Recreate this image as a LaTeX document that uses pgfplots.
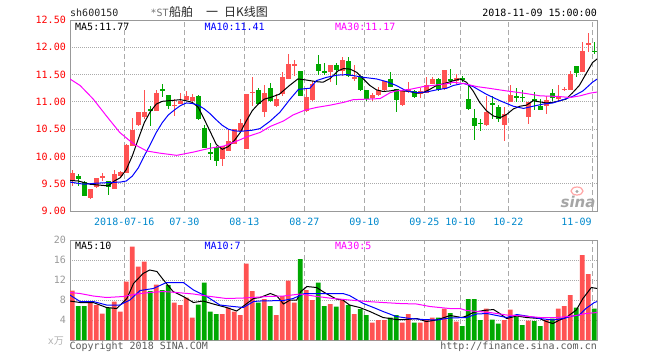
\documentclass[border=0pt]{standalone}
\usepackage{fontspec}
\setmainfont{DejaVu Sans Mono}
\newfontfamily\cjk{Noto Sans CJK SC}
\newfontfamily\sinafont{DejaVu Sans}
\usepackage{pgfplots}
\usepackage{pgfplotstable}
\pgfplotsset{compat=1.18}
\definecolor{cred}{RGB}{255,82,82}
\definecolor{cgreen}{RGB}{0,168,0}
\definecolor{axgray}{RGB}{153,153,153}
\definecolor{gridgray}{RGB}{170,170,170}
\definecolor{datecol}{RGB}{0,136,204}
\definecolor{mablue}{RGB}{0,0,255}
\definecolor{mamag}{RGB}{255,0,255}
\newcommand\mfont{\fontsize{10}{12}\selectfont}

\pgfplotstableread{
i o h l c v
0 9.55 9.76 9.46 9.70 9.9
3 9.24 9.40 9.22 9.40 7.5
4 9.44 9.61 9.42 9.61 7.0
5 9.60 9.70 9.55 9.65 5.3
7 9.40 9.75 9.40 9.67 7.7
8 9.65 9.73 9.63 9.71 5.7
9 9.70 10.22 9.70 10.21 11.7
10 10.19 10.70 10.19 10.49 18.7
11 10.57 10.81 10.56 10.81 14.7
12 10.72 11.21 10.69 10.82 15.7
14 10.84 11.22 10.84 11.16 11.1
17 10.93 11.05 10.75 10.95 7.5
18 10.96 11.17 10.96 11.02 7.0
19 11.04 11.19 11.03 11.10 8.5
20 11.02 11.14 10.99 11.08 4.5
25 9.96 10.19 9.83 10.19 5.2
26 10.10 10.50 10.10 10.29 6.5
27 10.22 10.50 10.22 10.50 5.7
28 10.47 10.68 10.47 10.61 5.0
29 10.13 11.14 10.13 11.14 15.3
30 11.17 11.45 10.93 11.18 9.8
32 10.82 11.31 10.73 11.16 8.2
34 10.93 11.14 10.90 11.06 5.0
35 11.14 11.55 11.11 11.45 8.8
36 11.42 11.88 11.41 11.69 11.9
37 11.66 11.77 11.48 11.69 7.5
39 10.84 11.26 10.82 11.08 10.0
40 11.03 11.39 11.02 11.33 8.0
43 11.55 11.68 11.36 11.68 7.2
45 11.56 11.82 11.48 11.77 8.2
47 11.41 11.68 11.39 11.45 5.2
50 11.07 11.17 11.01 11.12 3.5
51 11.13 11.28 11.11 11.22 4.0
52 11.22 11.39 11.20 11.39 4.0
55 10.94 11.19 10.93 11.19 3.5
56 11.19 11.37 11.17 11.23 5.2
58 11.14 11.26 11.08 11.20 3.5
59 11.17 11.46 11.16 11.31 4.0
60 11.33 11.45 11.32 11.42 4.5
62 11.24 11.58 11.22 11.58 6.3
64 11.39 11.51 11.33 11.43 3.7
69 10.58 11.11 10.56 10.82 6.3
72 10.58 10.90 10.28 10.77 4.0
73 11.00 11.31 10.99 11.12 6.1
76 10.73 11.00 10.59 11.00 3.9
79 10.92 11.10 10.77 11.03 4.0
81 11.07 11.30 11.02 11.09 6.3
82 11.22 11.28 11.19 11.24 6.8
83 11.22 11.57 11.22 11.51 9.0
85 11.55 12.09 11.54 11.93 17.0
86 12.05 12.26 11.91 12.07 13.2
}\upT

\pgfplotstableread{
i o h l c v
1 9.64 9.67 9.46 9.59 6.8
2 9.54 9.55 9.27 9.27 6.8
6 9.55 9.55 9.30 9.44 6.5
13 10.86 10.93 10.55 10.85 9.8
15 11.23 11.33 11.08 11.22 10.0
16 11.13 11.13 10.87 10.93 11.0
21 11.11 11.13 10.67 10.68 7.1
22 10.52 10.57 10.15 10.15 11.5
23 10.07 10.24 9.93 10.06 5.7
24 10.18 10.19 9.83 9.92 5.2
31 11.21 11.25 10.96 10.96 7.5
33 11.25 11.34 10.99 11.02 6.8
38 11.56 11.56 11.10 11.11 16.2
41 11.69 11.85 11.50 11.56 11.5
42 11.56 11.72 11.49 11.53 6.8
44 11.68 11.71 11.31 11.59 6.7
46 11.74 11.82 11.45 11.47 7.0
48 11.48 11.48 11.19 11.22 6.2
49 11.22 11.22 11.01 11.05 5.0
53 11.42 11.54 11.27 11.28 4.5
54 11.23 11.23 10.82 11.03 5.0
57 11.19 11.21 11.08 11.09 3.5
61 11.42 11.43 11.20 11.22 4.5
63 11.41 11.61 11.30 11.40 5.4
65 11.43 11.48 11.37 11.41 2.8
66 11.05 11.30 10.85 10.87 8.2
67 10.70 10.87 10.30 10.56 8.2
68 10.61 10.68 10.47 10.60 4.0
70 10.97 11.10 10.68 10.96 4.1
71 10.90 10.94 10.63 10.69 3.3
74 11.10 11.26 10.99 11.09 4.7
75 11.09 11.22 10.99 11.08 3.0
77 11.04 11.18 10.85 11.03 3.8
78 10.93 11.06 10.85 10.85 2.8
80 11.17 11.23 11.02 11.08 4.3
84 11.65 11.65 11.45 11.53 6.5
87 11.94 12.09 11.88 11.92 6.3
}\downT

\pgfplotstableread{
x y
-0.4 9.56
1 9.55
2 9.52
3 9.49
4 9.48
5 9.47
6 9.46
7 9.55
8 9.61
9 9.76
10 10.01
11 10.32
12 10.62
13 10.82
14 10.96
15 11.01
16 11.02
17 11.03
18 11.04
19 11.02
20 10.99
21 10.90
22 10.68
23 10.45
24 10.22
25 10.13
26 10.18
27 10.29
28 10.44
29 10.65
30 10.84
31 10.96
32 11.05
33 11.08
34.5 11.14
36.2 11.30
37.6 11.42
39 11.40
40.7 11.37
41.8 11.36
43 11.43
44.3 11.57
45.2 11.61
46.3 11.60
47.4 11.54
48.5 11.42
49.6 11.30
50.7 11.22
51.8 11.19
52.9 11.20
54 11.22
55.1 11.20
56.2 11.19
57.4 11.16
58.5 11.17
59.6 11.23
60.7 11.30
61.8 11.33
63 11.37
64.6 11.42
65.7 11.36
66.8 11.20
67.9 10.99
69 10.84
70.2 10.74
71.3 10.71
72.4 10.77
73.5 10.87
74.6 10.92
75.7 10.94
76.8 11.02
77.9 11.00
79 10.98
80.1 10.99
81.2 11.02
82.3 11.05
83.4 11.17
84.5 11.30
85.6 11.51
86.7 11.72
87.5 11.79
}\maFive

\pgfplotstableread{
x y
-0.4 9.53
2 9.49
4 9.51
6 9.52
8 9.53
9 9.55
10 9.64
11 9.79
12 10.01
13 10.22
14 10.44
15 10.62
16 10.76
17 10.85
18 10.93
19 10.98
20 10.97
21 10.94
22 10.87
23 10.78
24 10.67
25 10.57
26 10.50
27 10.47
28 10.46
29 10.47
30 10.48
31.3 10.51
33 10.65
34.6 10.81
36.3 11.05
37.7 11.23
39.6 11.25
40.7 11.39
42.4 11.45
44.2 11.49
45.8 11.50
46.9 11.48
48.5 11.45
50.7 11.42
52.4 11.37
54 11.30
55.7 11.20
57.4 11.17
59 11.18
60.7 11.22
62.4 11.25
63.5 11.30
65.2 11.34
66.8 11.28
69 11.14
71.3 11.02
73.5 10.92
75.2 10.88
76.8 10.92
78.5 10.96
80.1 10.98
81.8 11.04
83.4 11.10
85.1 11.20
86.7 11.36
87.5 11.42
}\maTen

\pgfplotstableread{
x y
-0.4 11.42
1.3 11.30
3.5 11.05
5.7 10.74
7.9 10.44
10.2 10.23
12.4 10.10
14.6 10.06
17.4 10.02
20.2 10.08
22.9 10.15
25.2 10.19
27.4 10.28
29.1 10.36
31.3 10.44
33 10.55
35.2 10.65
36.8 10.76
38.8 10.85
40.8 10.90
43 10.94
45.2 10.99
46.8 11.04
49.1 11.05
51.3 11.06
53 11.17
54 11.20
56.3 11.23
58.5 11.28
60.7 11.31
62.9 11.34
63.5 11.36
65.5 11.33
67.4 11.28
69.4 11.25
72.4 11.20
75.2 11.16
78 11.11
80.8 11.10
83 11.08
84.6 11.11
86.3 11.16
87.5 11.18
}\maThirty

\pgfplotstableread{
x y
-0.4 7.8
1.3 7.5
3.5 7.5
5.7 6.5
7.4 6.3
9.1 8.3
10.2 11.3
11.8 13.3
12.9 14.0
14.1 13.7
15.2 12.0
16.8 9.7
18.5 8.7
20.2 7.5
21.8 7.8
23.5 7.2
25.7 6.5
27.4 5.8
29.1 7.3
30.2 8.3
31.3 8.5
33 9.3
34.1 8.8
35.2 7.2
36.3 8.0
37.4 8.0
38.1 9.7
39.1 10.7
40.7 10.5
42.3 9.3
44 8.2
45.1 8.0
46.2 7.0
47.9 6.5
49.6 5.7
51.8 4.5
54 4.1
55.7 4.1
57.4 4.3
59 3.7
60.7 4.0
63 4.9
64.9 4.5
65.7 4.8
66.8 5.5
68.5 5.9
70.2 6.1
71 5.5
72.4 4.3
74.1 4.8
75.7 4.5
77.9 4.3
79 3.7
80.1 3.3
81.2 4.0
82.3 4.5
84 6.0
85.1 8.3
86.5 10.5
87.5 10.3
}\vmaFive

\pgfplotstableread{
x y
-0.4 9.0
1.3 7.7
3.5 7.7
5.7 7.0
7.9 7.0
9.6 8.0
11.3 9.9
13.5 10.3
15.7 11.5
18.5 11.5
20.2 10.0
22.4 8.7
24.6 7.0
26.8 6.7
28.5 6.5
30.2 7.7
31.3 7.8
35.2 7.9
36.8 8.3
38.7 9.3
40.8 9.3
43.5 9.3
45.1 9.3
46.2 8.9
48.5 7.3
50.2 6.5
51.8 5.7
54 4.7
56.3 4.3
58.5 4.1
60.7 4.0
62.9 4.4
65.7 4.5
67.4 5.2
69.1 5.3
72.4 4.5
74.1 5.1
75.7 4.8
77.9 4.3
80.1 4.0
81.8 4.3
83.4 4.8
84.5 5.0
85.6 6.3
87 7.5
87.5 7.7
}\vmaTen

\pgfplotstableread{
x y
-0.4 9.5
1.3 9.3
3.5 8.8
5.7 8.5
8.5 8.7
10.7 9.2
12.9 9.5
15.2 9.7
17.4 9.5
20.2 9.2
22.4 8.8
25.7 8.3
28.5 8.4
31.3 8.6
32.4 8.7
35.2 8.8
38 9.2
40.8 8.7
43.5 8.3
46.2 8.0
49.1 7.7
51.8 7.5
54.6 7.3
57.4 7.2
59.6 6.7
62.9 6.3
64.6 6.3
65.7 5.9
69.6 5.5
72.4 5.0
75.2 4.8
78 4.5
80.7 4.5
83.5 4.8
85.6 5.3
87.5 5.5
}\vmaThirty

\pgfplotsset{
  candle/.style 2 args={draw=none, mark=none, forget plot,
    error bars/.cd, y dir=both, y explicit, error mark=none,
    error bar style={draw=#1, solid, line width=#2}},
}

\begin{document}
\begin{tikzpicture}
\path[use as bounding box] (0,0) rectangle (660pt,-360pt);

% ---------- price panel ----------
\begin{axis}[
  at={(70pt,-20pt)}, anchor=north west, scale only axis,
  width=527pt, height=191pt,
  xmin=-0.383, xmax=87.45, ymin=9, ymax=12.5,
  axis line style={draw=axgray, line width=1pt},
  major tick length=0pt,
  ytick={9,9.5,10,10.5,11,11.5,12,12.5},
  yticklabels={9.00,9.50,10.00,10.50,11.00,11.50,12.00,12.50},
  yticklabel style={text=red, font=\mfont, inner sep=0pt, xshift=-4pt},
  xtick={8.667,18.667,28.667,38.667,48.667,58.667,64.667,72.667},
  xticklabels={2018-07-16,07-30,08-13,08-27,09-10,09-25,10-10,10-22},
  extra x ticks={86.667}, extra x tick labels={11-09},
  extra x tick style={grid=major, tick label style={xshift=-15.8pt}},
  xticklabel style={text=datecol, font=\mfont, inner sep=0pt, yshift=-7pt},
  ymajorgrids, xmajorgrids,
  y grid style={gridgray, line width=1pt, dash pattern=on 1pt off 1pt},
  x grid style={gridgray, line width=1pt, dash pattern=on 5pt off 3pt},
  clip=true,
]
% wicks
\addplot[candle={cred}{1pt}]
  table[x=i, y expr={(\thisrow{h}+\thisrow{l})/2}, y error expr={(\thisrow{h}-\thisrow{l})/2}]{\upT};
\addplot[candle={cgreen}{1pt}]
  table[x=i, y expr={(\thisrow{h}+\thisrow{l})/2}, y error expr={(\thisrow{h}-\thisrow{l})/2}]{\downT};
% bodies
\addplot[candle={cred}{4.8pt}]
  table[x=i, y expr={(\thisrow{o}+\thisrow{c})/2}, y error expr={max(abs(\thisrow{c}-\thisrow{o})/2,0.009)}]{\upT};
\addplot[candle={cgreen}{4.8pt}]
  table[x=i, y expr={(\thisrow{o}+\thisrow{c})/2}, y error expr={max(abs(\thisrow{c}-\thisrow{o})/2,0.009)}]{\downT};
% moving averages
\addplot[black, line width=1pt, mark=none] table[x=x, y=y]{\maFive};
\addplot[mablue, line width=1pt, mark=none] table[x=x, y=y]{\maTen};
\addplot[mamag, line width=1pt, mark=none] table[x=x, y=y]{\maThirty};
\end{axis}

% ---------- volume panel ----------
\begin{axis}[
  at={(70pt,-240pt)}, anchor=north west, scale only axis,
  width=527pt, height=100pt,
  xmin=-0.383, xmax=87.45, ymin=0, ymax=20,
  axis line style={draw=axgray, line width=1pt},
  major tick length=0pt,
  ytick={4,8,12,16,20},
  /pgf/number format/assume math mode=true,
  yticklabel style={text=axgray, font=\mfont, inner sep=0pt, xshift=-4pt},
  xtick={8.667,18.667,28.667,38.667,48.667,58.667,64.667,72.667,86.667},
  xticklabels={},
  ymajorgrids, xmajorgrids,
  y grid style={gridgray, line width=1pt, dash pattern=on 1pt off 1pt},
  x grid style={gridgray, line width=1pt, dash pattern=on 5pt off 3pt},
  clip=true,
]
\addplot[ybar, bar width=4.8pt, bar shift=0pt, fill=cred, draw=none] table[x=i, y=v]{\upT};
\addplot[ybar, bar width=4.8pt, bar shift=0pt, fill=cgreen, draw=none] table[x=i, y=v]{\downT};
\addplot[black, line width=1pt, mark=none] table[x=x, y=y]{\vmaFive};
\addplot[mablue, line width=1pt, mark=none] table[x=x, y=y]{\vmaTen};
\addplot[mamag, line width=1pt, mark=none] table[x=x, y=y]{\vmaThirty};
\end{axis}

% ---------- texts ----------
\node[anchor=base west, inner sep=0pt, font=\mfont, text=black!85] at (70pt,-16.7pt) {sh600150};
\node[anchor=base west, inner sep=0pt, text=black!55, font=\mfont] at (150.5pt,-16.5pt) {*ST};
\node[anchor=base west, inner sep=0pt, font=\cjk\fontsize{12}{12}\selectfont, text=black!85] at (169pt,-16.5pt) {船舶};
\node[anchor=base west, inner sep=0pt, font=\cjk\fontsize{12}{12}\selectfont, text=black!85] at (206pt,-16.5pt) {一};
\node[anchor=base west, inner sep=0pt, font=\cjk\fontsize{12}{12}\selectfont, text=black!85] at (224pt,-16.5pt) {日K线图};
\node[anchor=base east, inner sep=0pt, font=\mfont, text=black] at (597pt,-16.7pt) {2018-11-09 15:00:00};

\node[anchor=base west, inner sep=0pt, font=\mfont, text=black] at (75pt,-30pt) {MA5:11.77};
\node[anchor=base west, inner sep=0pt, font=\mfont, text=mablue] at (204.3pt,-30pt) {MA10:11.41};
\node[anchor=base west, inner sep=0pt, font=\mfont, text=mamag] at (335pt,-30pt) {MA30:11.17};

\node[anchor=base west, inner sep=0pt, font=\mfont, text=black] at (75pt,-249.5pt) {MA5:10};
\node[anchor=base west, inner sep=0pt, font=\mfont, text=mablue] at (204.3pt,-249.5pt) {MA10:7};
\node[anchor=base west, inner sep=0pt, font=\mfont, text=mamag] at (335pt,-249.5pt) {MA30:5};

\node[anchor=base east, inner sep=0pt, text=black!30] at (64pt,-344pt) {\mfont x\cjk\fontsize{10}{10}\selectfont 万};
\node[anchor=base west, inner sep=0pt, font=\mfont, text=black!65] at (69.3pt,-349.5pt) {Copyright 2018 SINA.COM};
\node[anchor=base east, inner sep=0pt, font=\mfont, text=black!65] at (597pt,-349.5pt) {http://finance.sina.com.cn};

% sina watermark
\draw[red!35, line width=1.2pt] (577pt,-191pt) ellipse (6pt and 4pt);
\fill[black!35] (577pt,-191.5pt) circle (1.6pt);
\node[anchor=base, inner sep=0pt, text=black!35, font=\sinafont\bfseries\itshape\fontsize{15}{15}\selectfont] at (578pt,-207pt) {sina};
\end{tikzpicture}
\end{document}
